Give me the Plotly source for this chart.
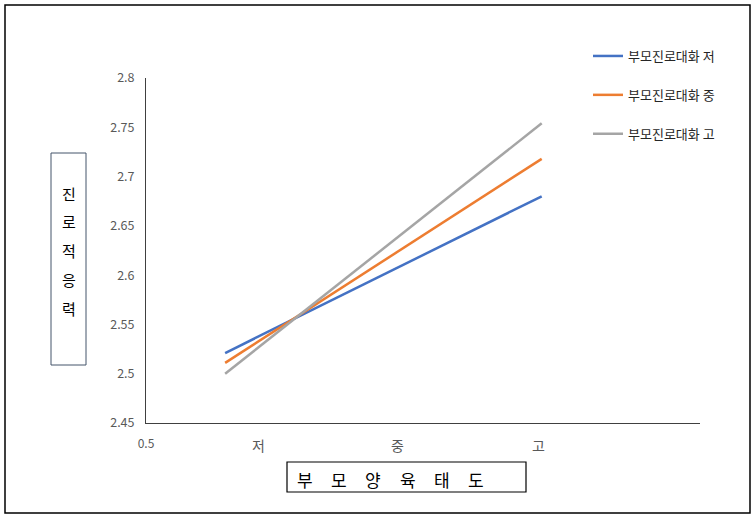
import plotly.graph_objects as go

# Data
x_vals = [1, 3]
series_names = ["부모진로대화 저", "부모진로대화 중", "부모진로대화 고"]
series_values = [
    [2.521, 2.680],
    [2.511, 2.718],
    [2.500, 2.754],
]
colors = ["#4472C4", "#ED7D31", "#A5A5A5"]
y_ticks = [2.45, 2.5, 2.55, 2.6, 2.65, 2.7, 2.75, 2.8]
y_tick_labels = ["2.45", "2.5", "2.55", "2.6", "2.65", "2.7", "2.75", "2.8"]
cat_labels = ["저", "중", "고"]
cat_pos = [1.21, 2.09, 2.98]
y_title_chars = ["진", "로", "적", "응", "력"]
x_title = "부  모  양  육  태  도"

FONT = "Noto Sans CJK KR"

fig = go.Figure()
for i, (name, vals) in enumerate(zip(series_names, series_values)):
    fig.add_trace(go.Scatter(
        x=x_vals, y=vals, mode="lines", name=name,
        line=dict(color=colors[i], width=2.5),
        legendgroup=f"g{i}",
    ))

fig.update_layout(
    width=754, height=518,
    margin=dict(l=146, r=54, t=78, b=95),
    paper_bgcolor="white", plot_bgcolor="white",
    font=dict(family=FONT, color="#595959", size=12),
    showlegend=True,
    legend=dict(
        x=(594 - 146 - 6) / 554, y=(423 - 41) / 345, xref="paper", yref="paper",
        xanchor="left", yanchor="top",
        font=dict(family=FONT, size=13, color="#262626"),
        tracegroupgap=19, itemwidth=30, bgcolor="rgba(0,0,0,0)",
    ),
    xaxis=dict(
        range=[0.5, 4.0], showgrid=False, zeroline=False,
        showline=True, linecolor="#404040", linewidth=1,
        tickvals=[0.5], ticktext=["0.5"], ticks="",
        ticklabelstandoff=10,
        tickfont=dict(size=12, color="#595959"),
    ),
    yaxis=dict(
        range=[2.45, 2.8], showgrid=False, zeroline=False,
        showline=True, linecolor="#404040", linewidth=1,
        tickvals=y_ticks, ticktext=y_tick_labels, ticks="",
        ticklabelstandoff=8,
        tickfont=dict(size=12.5, color="#595959"),
    ),
)

# outer frame
fig.add_shape(type="rect", xref="paper", yref="paper",
              x0=-141/554, x1=604/554, y0=-90/345, y1=(423-5)/345,
              line=dict(color="black", width=1.5), fillcolor="rgba(0,0,0,0)")

# category labels
for lab, p in zip(cat_labels, cat_pos):
    fig.add_annotation(x=p, y=0, xref="x", yref="paper", text=lab,
                       showarrow=False, yshift=-22, xanchor="center", yanchor="middle",
                       font=dict(family=FONT, size=14, color="#595959"))

# y title box
fig.add_shape(type="rect", xref="paper", yref="paper",
              x0=(51-146)/554, x1=(86-146)/554,
              y0=(423-365)/345, y1=(423-153)/345,
              line=dict(color="#44546A", width=1), fillcolor="white")
for k, ch in enumerate(y_title_chars):
    yy = 193 + k * 28.8
    fig.add_annotation(x=(68.5-146)/554, y=(423-yy)/345, xref="paper", yref="paper",
                       text=ch, showarrow=False, xanchor="center", yanchor="middle",
                       font=dict(family=FONT, size=15, color="black"))

# x title box
fig.add_shape(type="rect", xref="paper", yref="paper",
              x0=(287-146)/554, x1=(526-146)/554,
              y0=(423-492)/345, y1=(423-462)/345,
              line=dict(color="black", width=1.2), fillcolor="white")
x_chars = x_title.split()
for k, ch in enumerate(x_chars):
    xx = 305 + k * 34.2
    fig.add_annotation(x=(xx-146)/554, y=(423-479)/345, xref="paper", yref="paper",
                       text=ch, showarrow=False, xanchor="center", yanchor="middle",
                       font=dict(family=FONT, size=17, color="black"))

fig.write_html("out.html")
